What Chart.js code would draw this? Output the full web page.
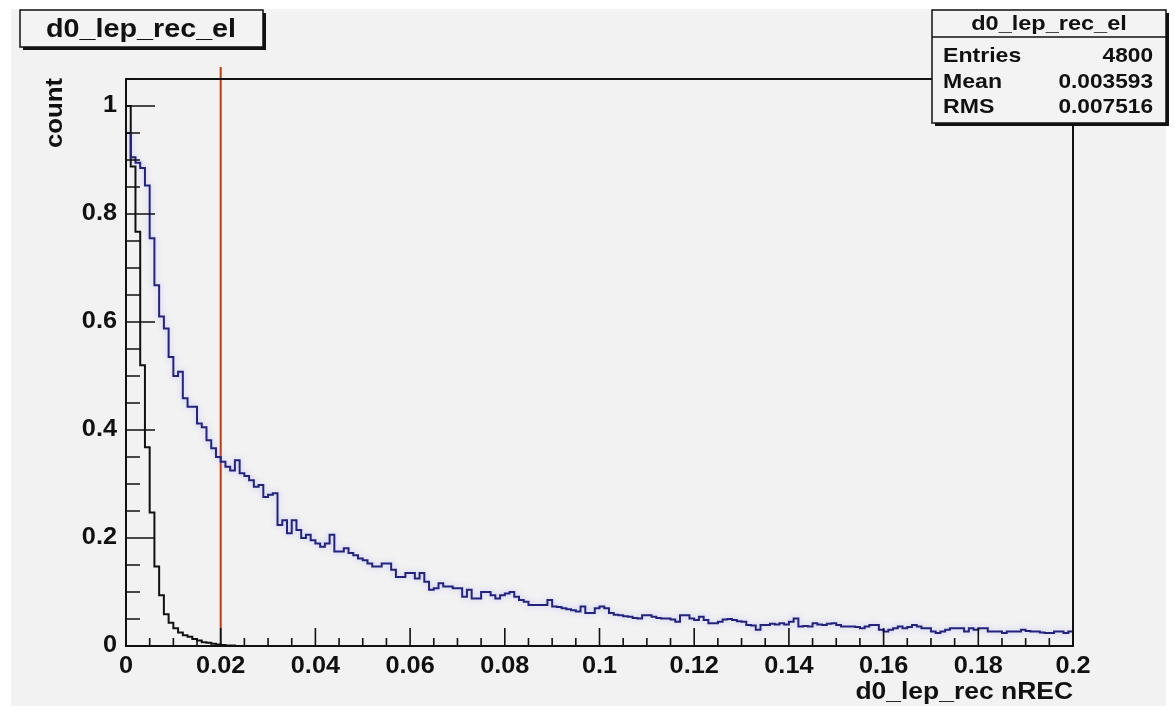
<!DOCTYPE html>
<html>
<head>
<meta charset="utf-8">
<title>d0_lep_rec_el</title>
<script src="https://cdn.jsdelivr.net/npm/chart.js@4.4.1/dist/chart.umd.min.js"></script>
<style>
  html, body { margin: 0; padding: 0; background: #ffffff; }
  #c { display: block; }
</style>
</head>
<body>
<canvas id="c" width="1175" height="715"></canvas>
<script>
// histogram binning: 200 bins of 0.001 between 0 and 0.2
const binWidth = 0.001;
const xRange = [0, 0.2];
const yRange = [0, 1.05];

// d0 of reconstructed electrons (black, narrow)
const d0Reco = [
  1.0, 0.888, 0.767, 0.52, 0.368, 0.247, 0.147, 0.094, 0.059, 0.043,
  0.033, 0.025, 0.02, 0.017, 0.013, 0.01, 0.007, 0.006, 0.004, 0.003,
  0.002, 0.001, 0.001, 0, 0
];

// d0 of the non-reconstructed sample (blue, wide tail)
const d0NoReco = [
  0.95, 0.905, 0.895, 0.885, 0.853, 0.755, 0.668, 0.61, 0.588, 0.535,
  0.50, 0.508, 0.459, 0.443, 0.443, 0.412, 0.405, 0.381, 0.366, 0.35,
  0.341, 0.332, 0.325, 0.344, 0.32, 0.315, 0.307, 0.295, 0.298, 0.276,
  0.28, 0.283, 0.224, 0.233, 0.209, 0.233, 0.215, 0.2, 0.206, 0.196,
  0.19, 0.184, 0.19, 0.206, 0.175, 0.175, 0.181, 0.172, 0.168, 0.162,
  0.159, 0.153, 0.147, 0.147, 0.153, 0.153, 0.141, 0.128, 0.128, 0.135,
  0.135, 0.125, 0.135, 0.119, 0.104, 0.107, 0.116, 0.11, 0.11, 0.107,
  0.107, 0.091, 0.104, 0.088, 0.088, 0.1, 0.1, 0.094, 0.088, 0.094,
  0.097, 0.1, 0.091, 0.085, 0.082, 0.076, 0.076, 0.076, 0.076, 0.085,
  0.073, 0.072, 0.07, 0.068, 0.066, 0.064, 0.073, 0.061, 0.061, 0.07,
  0.073, 0.07, 0.061, 0.058, 0.057, 0.055, 0.054, 0.052, 0.051, 0.057,
  0.057, 0.054, 0.052, 0.051, 0.051, 0.049, 0.045, 0.057, 0.057, 0.051,
  0.048, 0.054, 0.048, 0.042, 0.042, 0.045, 0.049, 0.05, 0.048, 0.046,
  0.045, 0.039, 0.038, 0.03, 0.039, 0.039, 0.041, 0.04, 0.042, 0.04,
  0.045, 0.051, 0.036, 0.037, 0.036, 0.042, 0.04, 0.039, 0.041, 0.042,
  0.039, 0.036, 0.036, 0.036, 0.035, 0.033, 0.036, 0.039, 0.039, 0.03,
  0.027, 0.03, 0.033, 0.036, 0.033, 0.035, 0.039, 0.036, 0.033, 0.033,
  0.027, 0.024, 0.027, 0.03, 0.033, 0.033, 0.033, 0.027, 0.033, 0.03,
  0.033, 0.033, 0.027, 0.027, 0.027, 0.024, 0.027, 0.027, 0.027, 0.03,
  0.028, 0.027, 0.027, 0.025, 0.024, 0.024, 0.027, 0.027, 0.024, 0.027
];

// cut line
const cutValue = 0.02;
const cutTop = 1.072;

// stats box
const histName = "d0_lep_rec_el";
const statLabels = ["Entries", "Mean", "RMS"];
const statValues = ["4800", "0.003593", "0.007516"];

const xTitle = "d0_lep_rec nREC";
const yTitle = "count";

const FONT = '"Liberation Sans", Arial, Helvetica, sans-serif';

// bin contents -> step points (low edges + closing upper edge)
function histPoints(values) {
  const pts = values.map((v, i) => ({ x: i * binWidth, y: v }));
  pts.push({ x: values.length * binWidth, y: values[values.length - 1] });
  return pts;
}

function wideText(ctx, str, x, y, align, sx) {
  ctx.save();
  ctx.translate(x, y);
  ctx.scale(sx, 1);
  ctx.textAlign = align;
  ctx.fillText(str, 0, 0);
  ctx.restore();
}

function boxWithShadow(ctx, x0, y0, x1, y1) {
  ctx.fillStyle = "#111";
  ctx.fillRect(x0 + 3, y0 + 3, x1 - x0, y1 - y0);
  ctx.fillStyle = "#f3f3f3";
  ctx.fillRect(x0, y0, x1 - x0, y1 - y0);
  ctx.strokeStyle = "#111";
  ctx.lineWidth = 1.5;
  ctx.strokeRect(x0, y0, x1 - x0, y1 - y0);
}

const rootStyle = {
  id: "rootStyle",
  beforeDraw(chart) {
    const ctx = chart.ctx;
    ctx.save();
    ctx.fillStyle = "#ffffff";
    ctx.fillRect(0, 0, chart.width, chart.height);
    ctx.fillStyle = "#f2f2f2";
    ctx.fillRect(11, 9, 1155, 697);
    ctx.restore();
  },
  // soft bluish glow around the wide histogram
  beforeDatasetDraw(chart, args) {
    if (args.index !== 0) return;
    chart.ctx.save();
    chart.ctx.shadowColor = "rgba(130,130,255,0.45)";
    chart.ctx.shadowBlur = 6;
  },
  afterDatasetDraw(chart, args) {
    if (args.index !== 0) return;
    chart.ctx.restore();
  },
  afterDraw(chart) {
    const ctx = chart.ctx;
    const a = chart.chartArea;
    const xs = chart.scales.x;
    const ys = chart.scales.y;
    ctx.save();

    // frame
    ctx.strokeStyle = "#111";
    ctx.lineWidth = 2;
    ctx.strokeRect(a.left, a.top, a.right - a.left, a.bottom - a.top);

    // x ticks, pointing into the frame
    ctx.lineWidth = 1.6;
    ctx.beginPath();
    for (let k = 0; k <= 40; k++) {
      const v = k * 0.005;
      const px = xs.getPixelForValue(v);
      const len = k % 4 === 0 ? 18 : 8;
      ctx.moveTo(px, a.bottom);
      ctx.lineTo(px, a.bottom - len);
    }
    // y ticks
    for (let k = 0; k <= 21; k++) {
      const v = k * 0.05;
      const py = ys.getPixelForValue(v);
      const len = k % 4 === 0 ? 29 : 14;
      ctx.moveTo(a.left, py);
      ctx.lineTo(a.left + len, py);
    }
    ctx.stroke();

    // tick labels
    ctx.fillStyle = "#111";
    ctx.font = "bold 23px " + FONT;
    ctx.textBaseline = "alphabetic";
    xs.ticks.forEach(t => {
      wideText(ctx, String(+t.value.toFixed(3)), xs.getPixelForValue(t.value), 673, "center", 1.1);
    });
    ctx.textBaseline = "middle";
    ys.ticks.forEach(t => {
      wideText(ctx, String(+t.value.toFixed(3)), 117, ys.getPixelForValue(t.value), "right", 1.1);
    });

    // axis titles
    ctx.textBaseline = "alphabetic";
    wideText(ctx, xTitle, a.right, 699, "right", 1.15);
    ctx.save();
    ctx.translate(62, a.top - 1);
    ctx.rotate(-Math.PI / 2);
    wideText(ctx, yTitle, 0, 0, "right", 1.12);
    ctx.restore();

    // title box
    boxWithShadow(ctx, 20, 10, 263, 47);
    ctx.fillStyle = "#111";
    ctx.font = "bold 25px " + FONT;
    wideText(ctx, histName, 141, 37, "center", 1.15);

    // stats box
    boxWithShadow(ctx, 932, 10, 1166, 123);
    ctx.strokeStyle = "#111";
    ctx.lineWidth = 1.5;
    ctx.beginPath();
    ctx.moveTo(932, 37);
    ctx.lineTo(1166, 37);
    ctx.stroke();
    ctx.fillStyle = "#111";
    ctx.font = "bold 21px " + FONT;
    wideText(ctx, histName, 1049, 30, "center", 1.12);
    statLabels.forEach((lab, i) => {
      const y = 62 + i * 25.5;
      wideText(ctx, lab, 943, y, "left", 1.1);
      wideText(ctx, statValues[i], 1153, y, "right", 1.08);
    });

    ctx.restore();
  }
};

new Chart(document.getElementById("c"), {
  type: "line",
  data: {
    datasets: [
      {
        data: histPoints(d0NoReco),
        borderColor: "#23237e",
        borderWidth: 2,
        stepped: true,
        pointRadius: 0,
        fill: false
      },
      {
        data: histPoints(d0Reco),
        borderColor: "#111111",
        borderWidth: 2,
        stepped: true,
        pointRadius: 0,
        fill: false
      },
      {
        data: [{ x: cutValue, y: 0 }, { x: cutValue, y: cutTop }],
        borderColor: "#c23a10",
        borderWidth: 2,
        pointRadius: 0,
        clip: false
      }
    ]
  },
  options: {
    responsive: false,
    animation: false,
    layout: { padding: { left: 0, top: 79, right: 102, bottom: 0 } },
    plugins: { legend: { display: false }, tooltip: { enabled: false } },
    scales: {
      x: {
        type: "linear",
        min: xRange[0],
        max: xRange[1],
        ticks: { display: false, stepSize: 0.02, includeBounds: false },
        grid: { display: false },
        border: { display: false },
        afterFit: s => { s.height = 69; }
      },
      y: {
        type: "linear",
        min: yRange[0],
        max: yRange[1],
        ticks: { display: false, stepSize: 0.2, includeBounds: false },
        grid: { display: false },
        border: { display: false },
        afterFit: s => { s.width = 126; }
      }
    }
  },
  plugins: [rootStyle]
});
</script>
</body>
</html>
